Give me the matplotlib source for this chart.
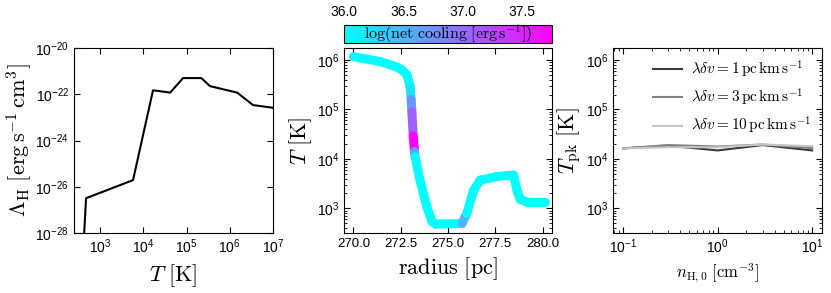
import numpy as np
import matplotlib
matplotlib.use('Agg')
import matplotlib.pyplot as plt
import matplotlib.ticker as mticker
from matplotlib.collections import LineCollection
from matplotlib.colors import Normalize
from matplotlib.cm import ScalarMappable

plt.rcParams['font.family'] = 'Liberation Sans'
plt.rcParams['mathtext.fontset'] = 'cm'
plt.rcParams['xtick.direction'] = 'in'
plt.rcParams['ytick.direction'] = 'in'
plt.rcParams['xtick.top'] = True
plt.rcParams['ytick.right'] = True
plt.rcParams['xtick.major.size'] = 4
plt.rcParams['ytick.major.size'] = 4
plt.rcParams['xtick.minor.size'] = 2
plt.rcParams['ytick.minor.size'] = 2
plt.rcParams['xtick.labelsize'] = 10
plt.rcParams['ytick.labelsize'] = 10

# --- cooling function (left) ---
T_cool = [430, 475, 5800, 1.68e4, 4.2e4, 8.3e4, 2.2e5, 3.5e5, 1.48e6, 3.46e6, 1e7]
Lambda_H = [1e-28, 3.2e-27, 1.94e-26, 1.48e-22, 1.18e-22, 5.0e-22, 5.0e-22,
            2.24e-22, 1.18e-22, 3.4e-23, 2.6e-23]

# --- temperature profile (middle) ---
radius = [270.00, 271.41, 272.30, 272.56, 272.83, 273.00, 273.05, 273.09, 273.16,
          273.23, 273.26, 273.52, 273.88, 274.15, 274.35, 275.74, 276.00, 276.35,
          276.70, 277.59, 278.47, 278.65, 278.82, 279.17, 280.14]
T_prof = [1.17e6, 9.3e5, 7.2e5, 6.3e5, 5.0e5, 2.9e5, 1.6e5, 8.9e4, 2.9e4,
          1.4e4, 1.1e4, 3.7e3, 1.07e3, 540, 480, 490, 790, 2.3e3,
          3.7e3, 4.4e3, 4.7e3, 2.3e3, 1.5e3, 1.35e3, 1.35e3]
log_cool = [36.0, 36.0, 36.0, 36.0, 36.0, 36.2, 36.7, 37.1, 37.75,
            36.6, 36.0, 36.0, 36.0, 36.0, 36.0, 36.5, 36.0, 36.0,
            36.0, 36.0, 36.0, 36.0, 36.0, 36.0, 36.0]
cbar_ticks = [36.0, 36.5, 37.0, 37.5]

# --- peak temperature (right) ---
n_H0 = [0.1, 0.3, 1.0, 3.0, 10.0]
Tpk_1 = [1.63e4, 1.85e4, 1.48e4, 1.9e4, 1.48e4]
Tpk_3 = [1.63e4, 1.9e4, 1.78e4, 1.95e4, 1.65e4]
Tpk_10 = [1.63e4, 1.72e4, 1.72e4, 1.95e4, 1.8e4]

W, H = 831, 293
fig = plt.figure(figsize=(W / 100, H / 100), dpi=100)


def box(x0, x1, ytop, ybot):
    return [x0 / W, 1 - ybot / H, (x1 - x0) / W, (ybot - ytop) / H]


# Left panel
ax1 = fig.add_axes(box(74, 273, 48, 233))
ax1.plot(T_cool, Lambda_H, 'k-', lw=1.5)
ax1.set_xscale('log')
ax1.set_yscale('log')
ax1.set_xlim(250, 1e7)
ax1.set_ylim(1e-28, 1e-20)
ax1.yaxis.set_major_locator(mticker.FixedLocator([1e-28, 1e-26, 1e-24, 1e-22, 1e-20]))
ax1.yaxis.set_minor_locator(mticker.NullLocator())
ax1.xaxis.set_major_locator(mticker.FixedLocator([1e3, 1e4, 1e5, 1e6, 1e7]))
ax1.set_xlabel(r'$T\ [\mathrm{K}]$', fontsize=16)
ax1.set_ylabel(r'$\Lambda_{\mathrm{H}}\ [\mathrm{erg\,s^{-1}\,cm^3}]$', fontsize=16, labelpad=1)

# Middle panel
ax2 = fig.add_axes(box(344, 552, 48, 233))
norm = Normalize(vmin=36.0, vmax=37.75)
cmap = plt.get_cmap('cool')
pts = np.column_stack([radius, T_prof])
segs = np.stack([pts[:-1], pts[1:]], axis=1)
lc = LineCollection(segs, colors=cmap(norm(np.array(log_cool[:-1]))),
                    linewidths=6.5, capstyle='round')
ax2.add_collection(lc)
ax2.set_yscale('log')
ax2.set_xlim(269.5, 280.5)
ax2.set_ylim(316, 1.75e6)
ax2.xaxis.set_major_locator(mticker.MultipleLocator(2.5))
ax2.xaxis.set_major_formatter(mticker.FormatStrFormatter('%.1f'))
ax2.tick_params(axis='x', labelsize=9.5)
ax2.set_xlabel(r'$\mathrm{radius\ [pc]}$', fontsize=16)
ax2.set_ylabel(r'$T\ [\mathrm{K}]$', fontsize=16, labelpad=2)

cax = fig.add_axes(box(344, 552, 25, 43))
sm = ScalarMappable(norm=norm, cmap=cmap)
cb = fig.colorbar(sm, cax=cax, orientation='horizontal')
cb.set_ticks(cbar_ticks)
cb.ax.xaxis.set_major_formatter(mticker.FormatStrFormatter('%.1f'))
cax.xaxis.set_ticks_position('top')
cax.tick_params(axis='x', length=0, labelsize=10, pad=4, bottom=False)
cax.text(0.5, 0.5, r'$\mathrm{log(net\ cooling\ [erg\,s^{-1}])}$', transform=cax.transAxes,
         ha='center', va='center', fontsize=11.5)

# Right panel
ax3 = fig.add_axes(box(613, 822, 48, 233))
ax3.plot(n_H0, Tpk_1, color='#3a3a3a', lw=1.5,
         label=r'$\lambda\delta v = 1\,\mathrm{pc\,km\,s^{-1}}$')
ax3.plot(n_H0, Tpk_3, color='#808080', lw=1.5,
         label=r'$\lambda\delta v = 3\,\mathrm{pc\,km\,s^{-1}}$')
ax3.plot(n_H0, Tpk_10, color='#c4c4c4', lw=1.5,
         label=r'$\lambda\delta v = 10\,\mathrm{pc\,km\,s^{-1}}$')
ax3.set_xscale('log')
ax3.set_yscale('log')
ax3.set_xlim(0.078, 12.7)
ax3.set_ylim(316, 1.75e6)
ax3.set_xlabel(r'$n_{\mathrm{H,0}}\ [\mathrm{cm^{-3}}]$', fontsize=12)
ax3.set_ylabel(r'$T_{\mathrm{pk}}\ [\mathrm{K}]$', fontsize=16, labelpad=2)
ax3.legend(loc='upper right', frameon=False, fontsize=11, handlelength=1.9,
           handletextpad=0.6, labelspacing=0.45, borderaxespad=0.3)

for ax in (ax1, ax2, ax3):
    ax.yaxis.set_minor_formatter(mticker.NullFormatter())
    ax.xaxis.set_minor_formatter(mticker.NullFormatter())

fig.savefig('out.png', dpi=100)
